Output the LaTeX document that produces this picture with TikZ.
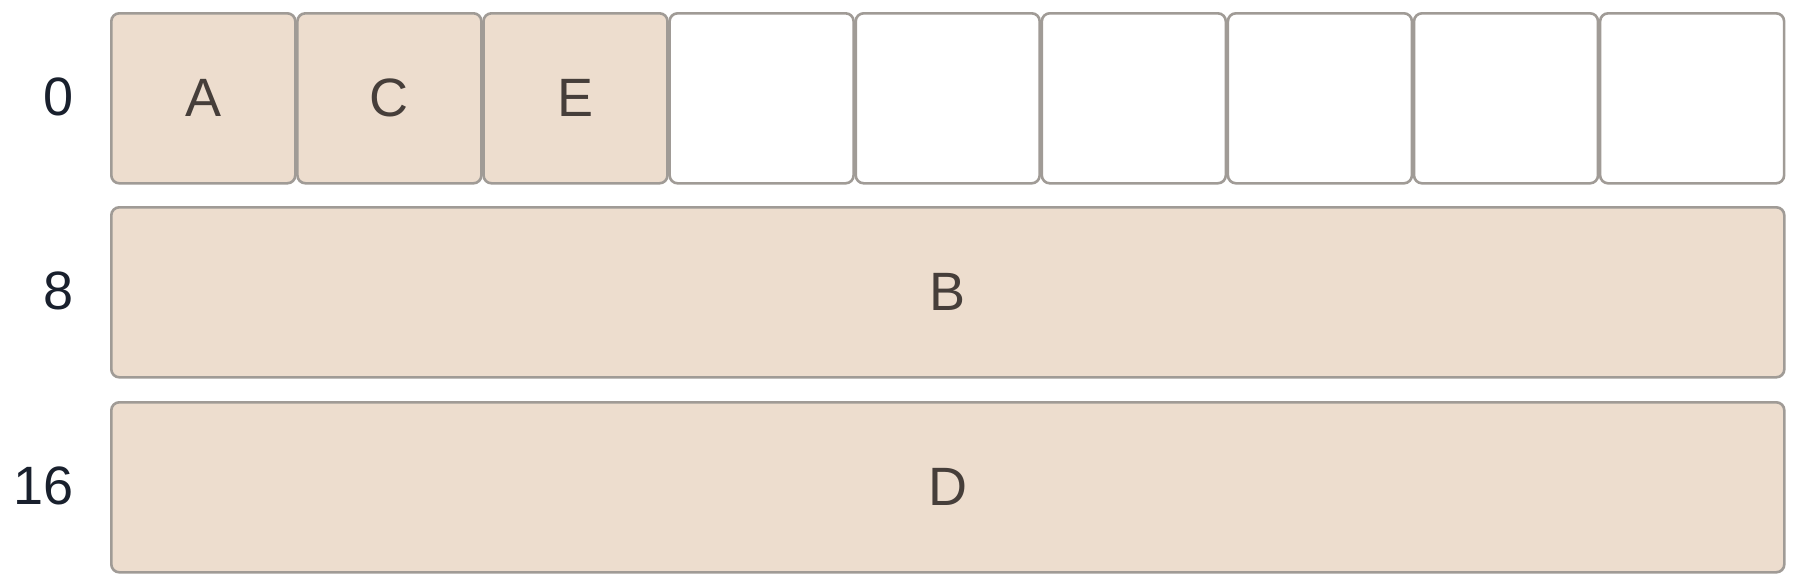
\documentclass[tikz,border=0pt]{standalone}
\usepackage{fontspec}
\setmainfont{Liberation Sans}
\definecolor{cellfill}{RGB}{237,221,206}
\definecolor{celldraw}{RGB}{160,155,150}
\definecolor{lettercol}{RGB}{70,62,58}
\definecolor{numcol}{RGB}{25,32,45}
\begin{document}
\begin{tikzpicture}[x=1pt,y=-1pt,
  cell/.style={draw=celldraw, line width=2.6pt, rounded corners=8pt, fill=cellfill,
    minimum width=184pt, minimum height=170pt, inner sep=0pt, anchor=north west,
    font=\fontsize{54}{60}\selectfont, text=lettercol},
  emptycell/.style={cell, fill=white},
  wide/.style={cell, minimum width=1673pt},
  rowlab/.style={anchor=east, inner sep=0pt, font=\fontsize{54}{60}\selectfont, text=numcol}]
\useasboundingbox (0,0) rectangle (1798,584);
\node[cell] (a) at (110,12) {A};
\node[cell] (c) at (296.1,12) {C};
\node[cell] (e) at (482.2,12) {E};
\node[emptycell] (f3) at (668.3,12) {};
\node[emptycell] (f4) at (854.4,12) {};
\node[emptycell] (f5) at (1040.5,12) {};
\node[emptycell] (f6) at (1226.6,12) {};
\node[emptycell] (f7) at (1412.7,12) {};
\node[emptycell] (f8) at (1598.8,12) {};
\node[wide] (b) at (110,206) {B};
\node[wide] (d) at (110,401) {D};
\node[rowlab] (l0) at (74,97) {0};
\node[rowlab] (l8) at (74,291) {8};
\node[rowlab] (l16) at (74,486) {16};
\end{tikzpicture}
\end{document}
